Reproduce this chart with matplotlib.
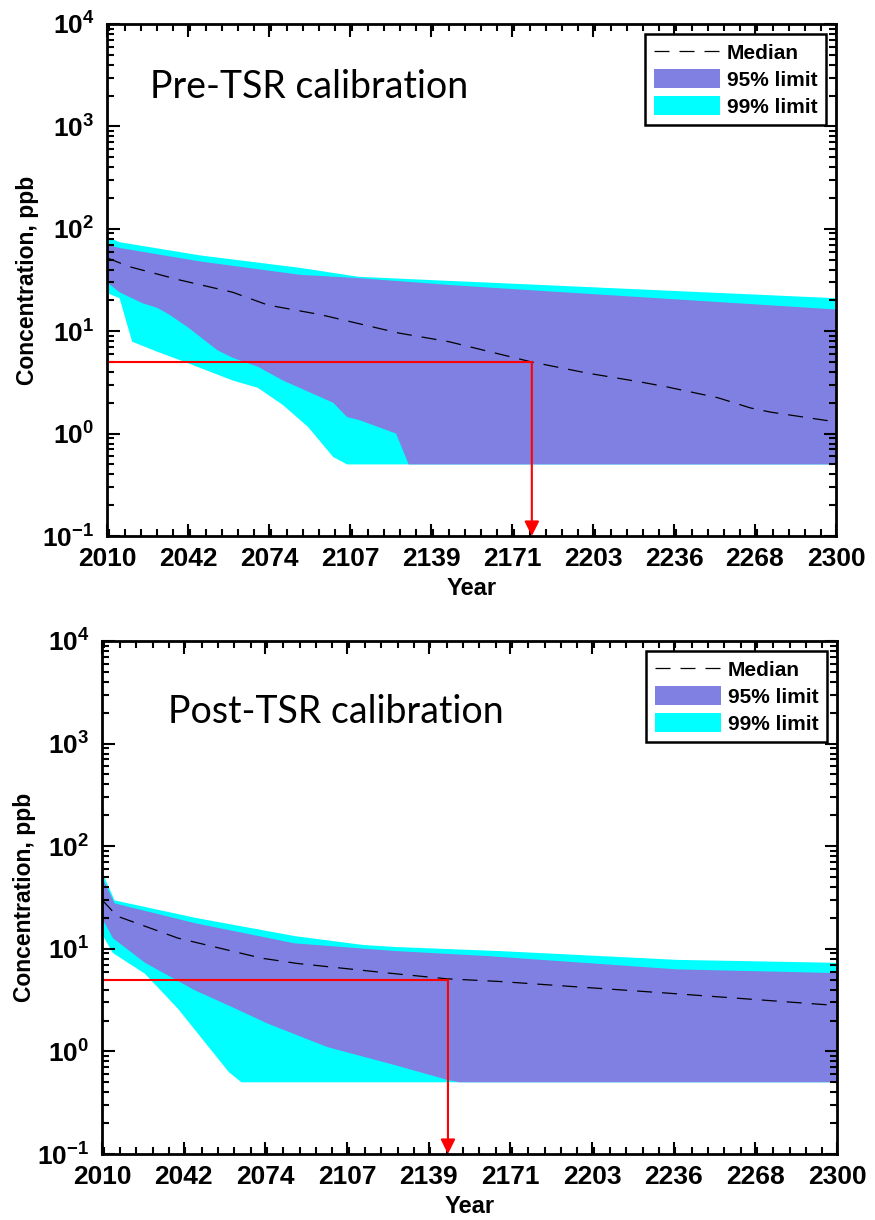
import numpy as np
import matplotlib
matplotlib.use('Agg')
import matplotlib.pyplot as plt
from matplotlib.patches import Patch
from matplotlib.lines import Line2D
from matplotlib.ticker import LogLocator, FixedLocator, MultipleLocator, NullFormatter, FuncFormatter

plt.rcParams['font.family'] = ['Liberation Sans', 'DejaVu Sans']
plt.rcParams['font.weight'] = 'bold'
plt.rcParams['axes.labelweight'] = 'bold'
plt.rcParams['mathtext.fontset'] = 'custom'
plt.rcParams['mathtext.rm'] = 'Liberation Sans:bold'
plt.rcParams['mathtext.it'] = 'Liberation Sans:bold'
plt.rcParams['mathtext.bf'] = 'Liberation Sans:bold'

# x axis ticks
tick_years = np.linspace(2010, 2300, 10)
tick_labels = ['2010', '2042', '2074', '2107', '2139', '2171', '2203', '2236', '2268', '2300']

# ---- Pre-TSR calibration ----
pre_u99_x = [2010, 2015, 2047, 2087, 2110, 2146, 2166, 2300]
pre_u99_y = [83, 74, 55, 41.5, 34, 31, 29.5, 21]
pre_l99_x = [2010, 2015, 2020, 2030, 2041, 2060, 2070, 2080, 2090, 2100, 2105.5, 2300]
pre_l99_y = [23.6, 21, 7.9, 6.3, 5.0, 3.3, 2.8, 1.9, 1.16, 0.59, 0.5, 0.5]
pre_u95_x = [2010, 2015, 2047, 2087, 2110, 2146, 2166, 2300]
pre_u95_y = [70, 65, 48, 35.5, 33, 28.3, 26.3, 16.3]
pre_l95_x = [2010, 2015, 2024, 2030, 2035, 2042, 2054, 2060, 2070, 2080, 2100, 2105.5, 2110.6, 2125, 2130, 2300]
pre_l95_y = [30, 24, 18.8, 16.9, 14.4, 11, 6.5, 5.5, 4.5, 3.3, 2.0, 1.45, 1.35, 1.0, 0.5, 0.5]
pre_med_x = [2010, 2019, 2039, 2060, 2074, 2095, 2126, 2146, 2179, 2201, 2222, 2233, 2253, 2266, 2274, 2300]
pre_med_y = [52, 42.6, 31.6, 24, 18, 14.5, 9.6, 7.9, 5.0, 3.9, 3.2, 2.85, 2.24, 1.78, 1.62, 1.3]
pre_cross = 2179

# ---- Post-TSR calibration ----
post_u99_x = [2010, 2015, 2047, 2086, 2113, 2126, 2167, 2237, 2300]
post_u99_y = [56, 29.6, 20, 13.3, 10.9, 10.4, 9.5, 7.8, 7.3]
post_l99_x = [2010, 2014.3, 2027, 2040, 2060, 2065, 2300]
post_l99_y = [13.9, 9.1, 5.7, 2.6, 0.63, 0.5, 0.5]
post_u95_x = [2010, 2015, 2047, 2086, 2126, 2162, 2237, 2300]
post_u95_y = [50, 27.7, 17.7, 11.3, 9.5, 8.5, 6.3, 5.8]
post_l95_x = [2010, 2014.3, 2027, 2047, 2060, 2075.5, 2099, 2126, 2146, 2151, 2300]
post_l95_y = [20, 12.7, 7.3, 3.9, 2.8, 1.86, 1.1, 0.73, 0.53, 0.5, 0.5]
post_med_x = [2010, 2016, 2040, 2073, 2087, 2123, 2146, 2167, 2233, 2300]
post_med_y = [30, 20.8, 12.7, 8.1, 7.2, 5.8, 5.1, 4.8, 3.7, 2.8]
post_cross = 2146.5

target = 5.0

c95 = '#8080e2'
c99 = '#00ffff'


def band(ax, ux, uy, lx, ly, color):
    xs = list(ux) + list(lx)[::-1]
    ys = list(uy) + list(ly)[::-1]
    ax.fill(xs, ys, color=color, lw=0)


def log_label(v, pos):
    return r'$\mathdefault{10^{%d}}$' % int(round(np.log10(v)))


def panel(ax, u99, l99, u95, l95, med, cross, title, tx, ty, ylab_x):
    band(ax, u99[0], u99[1], l99[0], l99[1], c99)
    band(ax, u95[0], u95[1], l95[0], l95[1], c95)
    ax.plot(med[0], med[1], color='black', lw=0.9, ls=(0, (12, 8)))
    ax.plot([2010, cross], [target, target], color='red', lw=1.5)
    ax.annotate('', xy=(cross, 0.1), xytext=(cross, target),
                arrowprops=dict(arrowstyle='-|>', color='red', lw=1.5,
                                mutation_scale=22, shrinkA=0, shrinkB=0))

    ax.set_yscale('log')
    ax.set_ylim(0.1, 1e4)
    ax.set_xlim(2010, 2300)
    ax.xaxis.set_major_locator(FixedLocator(tick_years))
    ax.set_xticklabels(tick_labels)
    ax.xaxis.set_minor_locator(MultipleLocator((2300 - 2010) / 45))
    ax.yaxis.set_major_locator(LogLocator(base=10, numticks=10))
    ax.yaxis.set_major_formatter(FuncFormatter(log_label))
    ax.yaxis.set_minor_locator(LogLocator(base=10, subs=np.arange(2, 10), numticks=20))
    ax.yaxis.set_minor_formatter(NullFormatter())
    ax.tick_params(which='both', direction='in', top=True, right=True, labelsize=19, width=1.5)
    ax.tick_params(which='major', length=9)
    ax.tick_params(which='minor', length=5)
    ax.tick_params(axis='x', pad=8)
    ax.tick_params(axis='y', pad=9)
    for s in ax.spines.values():
        s.set_linewidth(2)
    ax.set_xlabel('Year', fontsize=17, labelpad=4)
    ax.set_ylabel('Concentration, ppb', fontsize=16.5)
    ax.yaxis.set_label_coords(ylab_x, 0.5)

    ax.text(tx, ty, title, transform=ax.transAxes, fontsize=27,
            family='Lato', fontweight='normal', va='baseline')

    handles = [Line2D([], [], color='black', lw=0.9, ls=(0, (12, 8))),
               Patch(facecolor=c95, edgecolor='none'),
               Patch(facecolor=c99, edgecolor='none')]
    leg = ax.legend(handles, ['Median', '95% limit', '99% limit'], loc='upper right',
                    fontsize=15, fancybox=False, framealpha=1, edgecolor='black',
                    handlelength=3.2, handleheight=1.0, borderaxespad=0.5,
                    labelspacing=0.3, handletextpad=0.3, borderpad=0.4)
    leg.get_frame().set_linewidth(1.8)


fig = plt.figure(figsize=(8.75, 12.2), dpi=100)
ax1 = fig.add_axes([107 / 875, 1 - 536 / 1220, 729 / 875, 512 / 1220])
ax2 = fig.add_axes([102 / 875, 1 - 1154 / 1220, 735 / 875, 513 / 1220])

panel(ax1, (pre_u99_x, pre_u99_y), (pre_l99_x, pre_l99_y), (pre_u95_x, pre_u95_y),
      (pre_l95_x, pre_l95_y), (pre_med_x, pre_med_y), pre_cross,
      'Pre-TSR calibration', 0.059, 0.855, -0.093)
panel(ax2, (post_u99_x, post_u99_y), (post_l99_x, post_l99_y), (post_u95_x, post_u95_y),
      (post_l95_x, post_l95_y), (post_med_x, post_med_y), post_cross,
      'Post-TSR calibration', 0.09, 0.84, -0.09)

fig.savefig('out.png', dpi=100)
